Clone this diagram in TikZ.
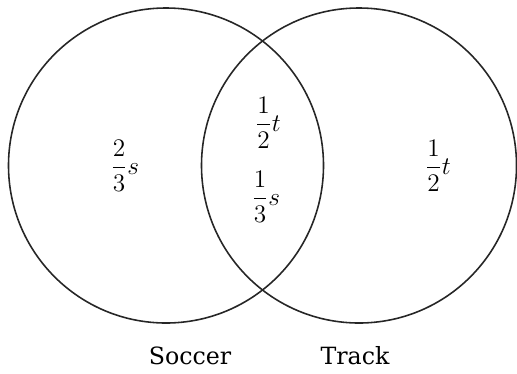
\documentclass[tikz,border=0pt]{standalone}
\usepackage{amsmath}
\usepackage{fontspec}
\newfontfamily\labelfont{DejaVu Serif}
\usepackage{tikz}
\begin{document}
\begin{tikzpicture}[x=0.02cm, y=-0.02cm, every node/.style={font=\Large},
  setcircle/.style={draw=black!85, line width=0.9pt},
  part/.style={inner sep=0pt},
  setname/.style={font=\labelfont\fontsize{13.5}{16}\selectfont}]
\useasboundingbox (0,0) rectangle (517,373);
% the two sets
\draw[setcircle] (166,165.5) circle[radius=157.5];
\draw[setcircle] (359,165.5) circle[radius=157.5];
% parts
\node[part] (soccer) at (125,166) {$\dfrac{2}{3}s$};
\node[part] (both-t) at (268,123) {$\dfrac{1}{2}t$};
\node[part] (both-s) at (266,197) {$\dfrac{1}{3}s$};
\node[part] (track) at (438,166) {$\dfrac{1}{2}t$};
% set names
\node[setname] (soccer-name) at (190,356) {Soccer};
\node[setname] (track-name) at (355,356) {Track};
\end{tikzpicture}
\end{document}
